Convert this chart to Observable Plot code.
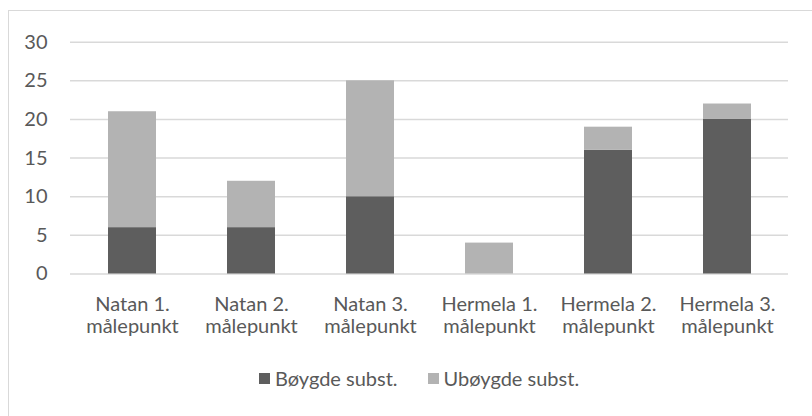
<!DOCTYPE html>
<html>
<head>
<meta charset="utf-8">
<script src="https://cdn.jsdelivr.net/npm/d3@7"></script>
<script src="https://cdn.jsdelivr.net/npm/@observablehq/plot@0.6"></script>
<style>
  html, body { margin: 0; padding: 0; background: #fff; }
  #wrap { position: relative; width: 812px; height: 416px; overflow: hidden; font-family: Lato, "Open Sans", sans-serif; }
  #frame { position: absolute; left: 8px; top: 10px; width: 820px; height: 420px; border: 1.5px solid #d9d9d9; box-sizing: border-box; }
  #chart { position: absolute; left: 0; top: 0; }
  #legend { position: absolute; left: 259px; top: 366px; display: flex; align-items: center; font-size: 20px; color: #595959; white-space: nowrap; }
  #legend .sw { display: inline-block; width: 11px; height: 11px; margin-right: 5px; }
  #legend .item { display: flex; align-items: center; margin-right: 30px; }
</style>
</head>
<body>
<div id="wrap">
  <div id="frame"></div>
  <div id="chart"></div>
  <div id="legend"></div>
</div>
<script>
const categories = ["Natan 1.\nmålepunkt", "Natan 2.\nmålepunkt", "Natan 3.\nmålepunkt", "Hermela 1.\nmålepunkt", "Hermela 2.\nmålepunkt", "Hermela 3.\nmålepunkt"];
const seriesNames = ["Bøygde subst.", "Ubøygde subst."];
const boygde = [6, 6, 10, 0, 16, 20];
const uboygde = [15, 6, 15, 4, 3, 2];
const yTicks = [0, 5, 10, 15, 20, 25, 30];
const colors = ["#5e5e5e", "#b3b3b3"];

const data = [];
categories.forEach((c, i) => {
  data.push({cat: c, series: seriesNames[0], value: boygde[i]});
  data.push({cat: c, series: seriesNames[1], value: uboygde[i]});
});

const plot = Plot.plot({
  width: 812,
  height: 416,
  marginLeft: 70,
  marginRight: 24,
  marginTop: 41.7,
  marginBottom: 142.5,
  style: {fontFamily: "Lato, 'Open Sans', sans-serif", fontSize: "20px", color: "#595959", background: "transparent"},
  x: {domain: categories, paddingInner: 0.6, paddingOuter: 0.3, label: null},
  y: {domain: [0, 30], label: null},
  color: {domain: seriesNames, range: colors},
  marks: [
    Plot.gridY(yTicks, {stroke: "#d9d9d9", strokeOpacity: 1, strokeWidth: 1.5}),
    Plot.barY(data, {x: "cat", y: "value", fill: "series", order: null}),
    Plot.axisY({ticks: yTicks, tickSize: 0, tickPadding: 23, label: null, fontSize: 20, fill: "#595959"}),
    Plot.axisX({tickSize: 0, tickPadding: 21, label: null, fontSize: 20, lineHeight: 1.12, fill: "#595959"})
  ]
});
document.getElementById("chart").appendChild(plot);

const legend = document.getElementById("legend");
seriesNames.forEach((s, i) => {
  const item = document.createElement("span");
  item.className = "item";
  const sw = document.createElement("span");
  sw.className = "sw";
  sw.style.background = colors[i];
  item.appendChild(sw);
  item.appendChild(document.createTextNode(s));
  legend.appendChild(item);
});
</script>
</body>
</html>
